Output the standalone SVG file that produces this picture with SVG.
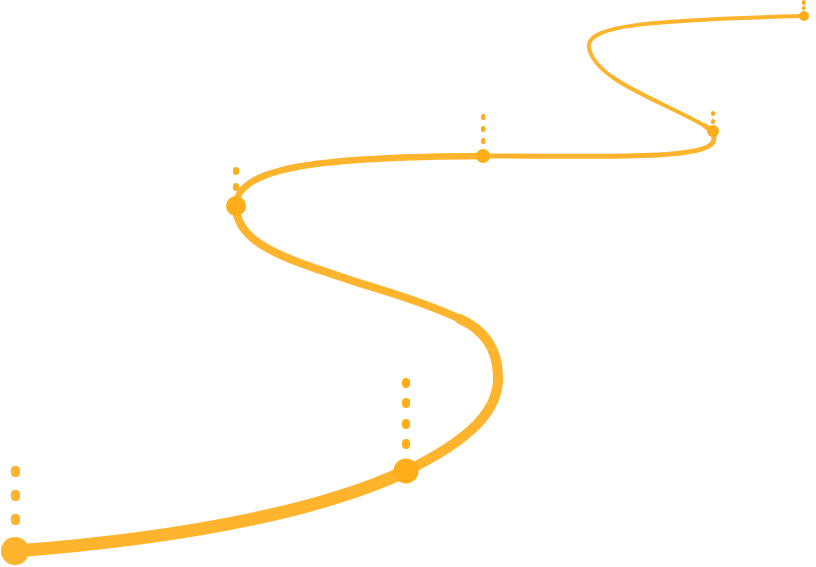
<svg xmlns="http://www.w3.org/2000/svg" width="816" height="567" viewBox="0 0 816 567">
<style>
.r{fill:none;stroke:#FFB42E;stroke-linecap:round}
.d{fill:#FFAE1A}
.k{fill:#FFB42E}
</style>
<rect width="816" height="567" fill="#fff"/>
<g id="road">
<path class="r" stroke-width="13" d="M15,551 C200,537 330,507 406,471"/>
<path class="r" stroke-width="10" d="M406,471 C470,440 500,410 498,375 C497,345 480,328 460,319"/>
<path class="r" stroke-width="8" d="M460,319 C420,300 380,290 350,280 C290,260 236,245 236,206"/>
<path class="r" stroke-width="6.5" d="M236,206 C236,165 330,157 483,156"/>
<path class="r" stroke-width="5" d="M483,156 C600,156 705,160 713,142 C716,135 712,130 705,126"/>
<path class="r" stroke-width="4" d="M705,126 C660,100 595,80 589,48 C585,25 650,20 804,16"/>
</g>
<g id="markers">
<circle class="k" cx="15" cy="551" r="14"/>
<rect class="k" x="11" y="466" width="9" height="11" rx="4"/>
<rect class="k" x="11" y="490" width="9" height="11" rx="4"/>
<rect class="k" x="11" y="514" width="9" height="11" rx="4"/>
<circle class="d" cx="406" cy="471" r="12.5"/>
<rect class="d" x="402" y="378" width="8" height="10" rx="4"/>
<rect class="d" x="402" y="398" width="8" height="10" rx="4"/>
<rect class="d" x="402" y="419" width="8" height="10" rx="4"/>
<rect class="d" x="402" y="439" width="8" height="10" rx="4"/>
<circle class="d" cx="236" cy="206" r="10"/>
<rect class="d" x="233" y="167" width="6" height="8" rx="3"/>
<rect class="d" x="233" y="183" width="6" height="8" rx="3"/>
<circle class="d" cx="483" cy="156" r="7"/>
<rect class="d" x="481" y="114" width="4.5" height="6" rx="2"/>
<rect class="d" x="481" y="126" width="4.5" height="6" rx="2"/>
<rect class="d" x="481" y="138" width="4.5" height="6" rx="2"/>
<circle class="d" cx="713" cy="131" r="6"/>
<rect class="d" x="711" y="111" width="4" height="5" rx="2"/>
<rect class="d" x="711" y="119" width="4" height="5" rx="2"/>
<circle class="d" cx="804" cy="16" r="5"/>
<rect class="d" x="802" y="0" width="3.5" height="5" rx="1.5"/>
<rect class="d" x="802" y="6" width="3.5" height="4" rx="1.5"/>
</g>
</svg>
